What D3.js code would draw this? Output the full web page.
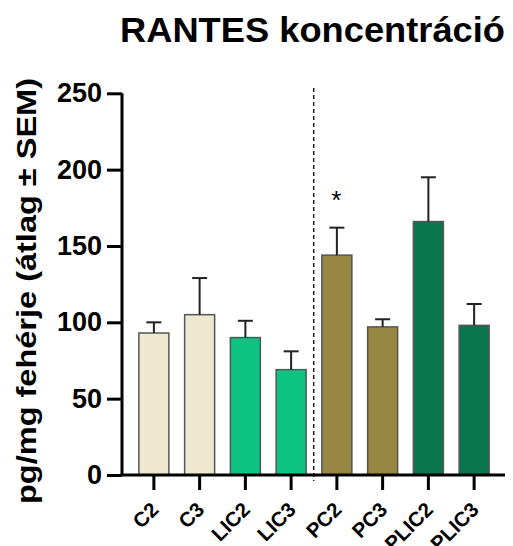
<!DOCTYPE html>
<html>
<head>
<meta charset="utf-8">
<script src="https://cdn.jsdelivr.net/npm/d3@7"></script>
<style>
  body { margin: 0; background: #fff; }
  svg { display: block; font-family: "Liberation Sans", Arial, sans-serif; font-weight: bold; }
</style>
</head>
<body>
<div class="main-container"></div>
<script>
const categories = ["C2", "C3", "LIC2", "LIC3", "PC2", "PC3", "PLIC2", "PLIC3"];
const means = [93, 105, 90, 69, 144, 97, 166, 98];
const sems = [7, 24, 11, 12, 18, 5, 29, 14];
const colors = ["#EEE8D0", "#EEE8D0", "#0CC382", "#0CC382", "#978641", "#978641", "#0A744E", "#0A744E"];
const yTicks = [0, 50, 100, 150, 200, 250];
const marks = ["", "", "", "", "*", "", "", ""];

const W = 513, H = 546;
const svg = d3.select(".main-container").append("svg").attr("width", W).attr("height", H);

const y = d3.scaleLinear().domain([0, 250]).range([475, 93.3]);
const x = d3.scaleBand().domain(categories).range([131, 497]);
const BAR_W = 30;
const cx = (c) => x(c) + x.bandwidth() / 2;

// title
svg.append("text").attr("x", 120).attr("y", 41.5)
  .attr("font-size", 35).attr("textLength", 385).attr("lengthAdjust", "spacingAndGlyphs")
  .text("RANTES koncentráció");

// y axis title
svg.append("text").attr("transform", "translate(36,291) rotate(-90)")
  .attr("text-anchor", "middle").attr("font-size", 27)
  .attr("textLength", 426).attr("lengthAdjust", "spacingAndGlyphs")
  .text("pg/mg fehérje (átlag ± SEM)");

// dashed separator between groups
const sepX = (x("LIC3") + x.bandwidth() + x("PC2")) / 2 - 0.3;
svg.append("line").attr("x1", sepX).attr("x2", sepX).attr("y1", 88).attr("y2", 481)
  .attr("stroke", "#222").attr("stroke-width", 1.5).attr("stroke-dasharray", "4,3");

// bars
svg.append("g").selectAll("rect").data(categories).join("rect")
  .attr("x", (c) => cx(c) - BAR_W / 2)
  .attr("y", (c, i) => y(means[i]))
  .attr("width", BAR_W)
  .attr("height", (c, i) => y(0) - y(means[i]))
  .attr("fill", (c, i) => colors[i])
  .attr("stroke", "#555").attr("stroke-width", 1.5);

// error bars (upper only)
const err = svg.append("g").attr("stroke", "#222").attr("stroke-width", 2);
categories.forEach((c, i) => {
  const top = y(means[i] + sems[i]);
  err.append("line").attr("x1", cx(c)).attr("x2", cx(c)).attr("y1", y(means[i])).attr("y2", top);
  err.append("line").attr("x1", cx(c) - 7.5).attr("x2", cx(c) + 7.5).attr("y1", top).attr("y2", top);
});

// significance marks
svg.append("g").selectAll("text").data(categories).join("text")
  .attr("x", (c) => cx(c) - 0.5)
  .attr("y", (c, i) => y(means[i] + sems[i]) - 19)
  .attr("text-anchor", "middle").attr("font-size", 26).attr("font-weight", "normal")
  .text((c, i) => marks[i]);

// y axis
const yAxis = svg.append("g").attr("transform", "translate(122,0)")
  .call(d3.axisLeft(y).tickValues(yTicks).tickSize(15).tickPadding(5));
yAxis.select(".domain").attr("stroke", "#000").attr("stroke-width", 3)
  .attr("d", `M0,${y(250)}V${y(0)}`);
yAxis.selectAll(".tick line").attr("stroke", "#000").attr("stroke-width", 3);
yAxis.selectAll(".tick text").attr("font-size", 27).attr("fill", "#000")
  .attr("font-family", "Liberation Sans, Arial, sans-serif").attr("font-weight", "bold");

// x axis
const xAxis = svg.append("g").attr("transform", `translate(0,${y(0)})`)
  .call(d3.axisBottom(x).tickSize(15).tickFormat(""));
xAxis.select(".domain").attr("stroke", "#000").attr("stroke-width", 3)
  .attr("d", "M120.5,0H505");
xAxis.selectAll(".tick line").attr("stroke", "#000").attr("stroke-width", 3);

// rotated x labels
svg.append("g").selectAll("text").data(categories).join("text")
  .attr("transform", (c) => `translate(${cx(c) + 6},511) rotate(-45)`)
  .attr("text-anchor", "end").attr("font-size", 20.5)
  .text((c) => c);
</script>
</body>
</html>
